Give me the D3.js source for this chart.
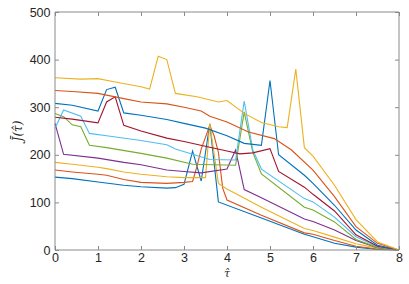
<!DOCTYPE html>
<html><head><meta charset="utf-8">
<script src="https://cdn.jsdelivr.net/npm/d3@7"></script>
<style>body{margin:0;background:#fff;}svg{display:block;}</style>
</head><body>
<svg id="c" width="409" height="284"></svg>
<script>
// Data: [tau, J] pairs per series
const s1 = [[0,153],[0.4,150],[1,143],[1.6,136],[2,133],[2.6,130],[2.8,131],[3,138],[3.2,208],[3.4,145],[3.6,265],[3.8,101],[4.8,67],[5.8,33],[6,28],[6.5,14],[7,6],[7.5,1],[8,0]];
const s2 = [[0,168],[0.4,164],[1,159],[1.2,157],[1.6,148],[2,142],[2.6,140],[3,142],[3.2,144],[3.3,175],[3.4,212],[3.6,262],[3.7,240],[3.8,205],[3.9,130],[4,105],[4.8,73],[5.8,36],[6,33],[6.5,20],[7,8],[7.5,2],[8,0]];
const s3 = [[0,184],[0.4,180],[1,174],[1.2,171],[1.6,164],[2,159],[2.6,154],[3,152],[3.5,152],[3.6,265],[3.8,140],[4,128],[4.8,90],[5.8,45],[6,41],[6.5,27],[7,13],[7.5,4],[8,0]];
const s4 = [[0,266],[0.2,201],[1,193],[1.6,184],[2,179],[2.6,168],[3,165],[3.4,162],[4,170],[4.2,210],[4.4,127],[4.8,110],[5.8,65],[6,60],[6.5,42],[7,20],[7.5,5],[8,0]];
const s5 = [[0,287],[0.2,280],[0.4,263],[0.6,259],[0.8,220],[1.2,215],[2,203],[2.6,193],[3.2,180],[4.2,178],[4.4,290],[4.6,205],[4.8,160],[5.8,90],[6,84],[6.5,59],[7,22],[7.5,5],[8,0]];
const s6 = [[0,256],[0.2,294],[0.6,281],[0.8,245],[1.2,240],[2,230],[2.6,221],[2.8,212],[3.6,190],[4.2,189],[4.4,313],[4.6,210],[4.8,170],[5.8,108],[6,101],[6.5,69],[7,28],[7.5,7],[8,0]];
const s7 = [[0,279],[0.4,275],[1,267],[1.2,311],[1.4,322],[1.6,262],[2,250],[2.6,235],[3,228],[3.6,216],[4,208],[4.3,202],[4.6,204],[5,213],[5.2,165],[5.8,132],[6,117],[6.5,82],[7,32],[7.5,8],[8,0]];
const s8 = [[0,308],[0.4,304],[1,292],[1.2,337],[1.4,342],[1.6,288],[2,283],[2.6,274],[3,266],[3.5,256],[4,240],[4.4,224],[4.8,220],[5,356],[5.2,200],[5.8,157],[6,140],[6.5,94],[7,42],[7.5,10],[8,0]];
const s9 = [[0,335],[0.4,333],[1,329],[1.6,318],[2,311],[2.6,307],[3,300],[3.4,292],[3.6,281],[4,269],[4.5,248],[5.1,234],[5.5,210],[6,168],[6.5,112],[7,49],[7.5,14],[8,0]];
const s10 = [[0,362],[0.6,359],[1,360],[1.4,353],[2,343],[2.2,338],[2.4,407],[2.6,400],[2.8,329],[3.3,322],[3.8,311],[4,314],[4.4,287],[4.8,268],[5.2,259],[5.4,257],[5.6,380],[5.8,215],[6,197],[6.5,136],[7,64],[7.5,17],[8,0]];
const seriesList = [s1,s2,s3,s4,s5,s6,s7,s8,s9,s10];
const colors = ["#0072BD","#D95319","#EDB120","#7E2F8E","#77AC30","#4DBEEE","#A2142F"];
const xTicks = [0,1,2,3,4,5,6,7,8];
const yTicks = [0,100,200,300,400,500];

const svg = d3.select("#c");
const L = 55, R = 399, T = 12, B = 250;
const x = d3.scaleLinear().domain([0,8]).range([L,R]);
const y = d3.scaleLinear().domain([0,500]).range([B,T]);
const axisColor = "#8a8a8a";
const font = "'Liberation Sans', Arial, Helvetica, sans-serif";

// lines
const line = d3.line().x(d=>x(d[0])).y(d=>y(d[1]));
seriesList.forEach((s,i)=>{
  svg.append("path").datum(s).attr("d",line)
    .attr("fill","none").attr("stroke",colors[i%7])
    .attr("stroke-width",1.1).attr("stroke-linejoin","miter");
});

// axes (box with inward ticks)
const tl = 4;
const g = svg.append("g");
const axB = g.append("g").attr("transform",`translate(0,${B})`)
  .call(d3.axisBottom(x).tickValues(xTicks).tickSize(-tl).tickPadding(3).tickFormat(d3.format("d")));
const axT = g.append("g").attr("transform",`translate(0,${T})`)
  .call(d3.axisTop(x).tickValues(xTicks).tickSize(-tl).tickFormat(""));
const axL = g.append("g").attr("transform",`translate(${L},0)`)
  .call(d3.axisLeft(y).tickValues(yTicks).tickSize(-tl).tickPadding(4.5).tickFormat(d3.format("d")));
const axR = g.append("g").attr("transform",`translate(${R},0)`)
  .call(d3.axisRight(y).tickValues(yTicks).tickSize(-tl).tickFormat(""));
g.selectAll(".domain").attr("stroke",axisColor).attr("stroke-width",1);
g.selectAll(".tick line").attr("stroke",axisColor).attr("stroke-width",1);
g.selectAll(".tick text").attr("fill","#262626").attr("font-size","12.5px").attr("font-family",font);
[axB,axT].forEach(a=>a.select(".domain").attr("d",`M${L},0H${R}`));
[axL,axR].forEach(a=>a.select(".domain").attr("d",`M0,${T}V${B}`));

// labels
svg.append("text").attr("x",x(4)).attr("y",277).attr("text-anchor","middle")
  .attr("font-family","'DejaVu Serif', 'Liberation Serif', serif").attr("font-style","italic")
  .attr("font-size","11px").attr("fill","#262626").text("\u03C4\u0302");
svg.append("text").attr("transform",`translate(22,${(T+B)/2}) rotate(-90)`).attr("text-anchor","middle")
  .attr("font-family","'DejaVu Serif', 'Liberation Serif', serif").attr("font-style","italic")
  .attr("font-size","12px").attr("fill","#262626").text("J\u0304(\u03C4\u0302)");
</script>
</body></html>
